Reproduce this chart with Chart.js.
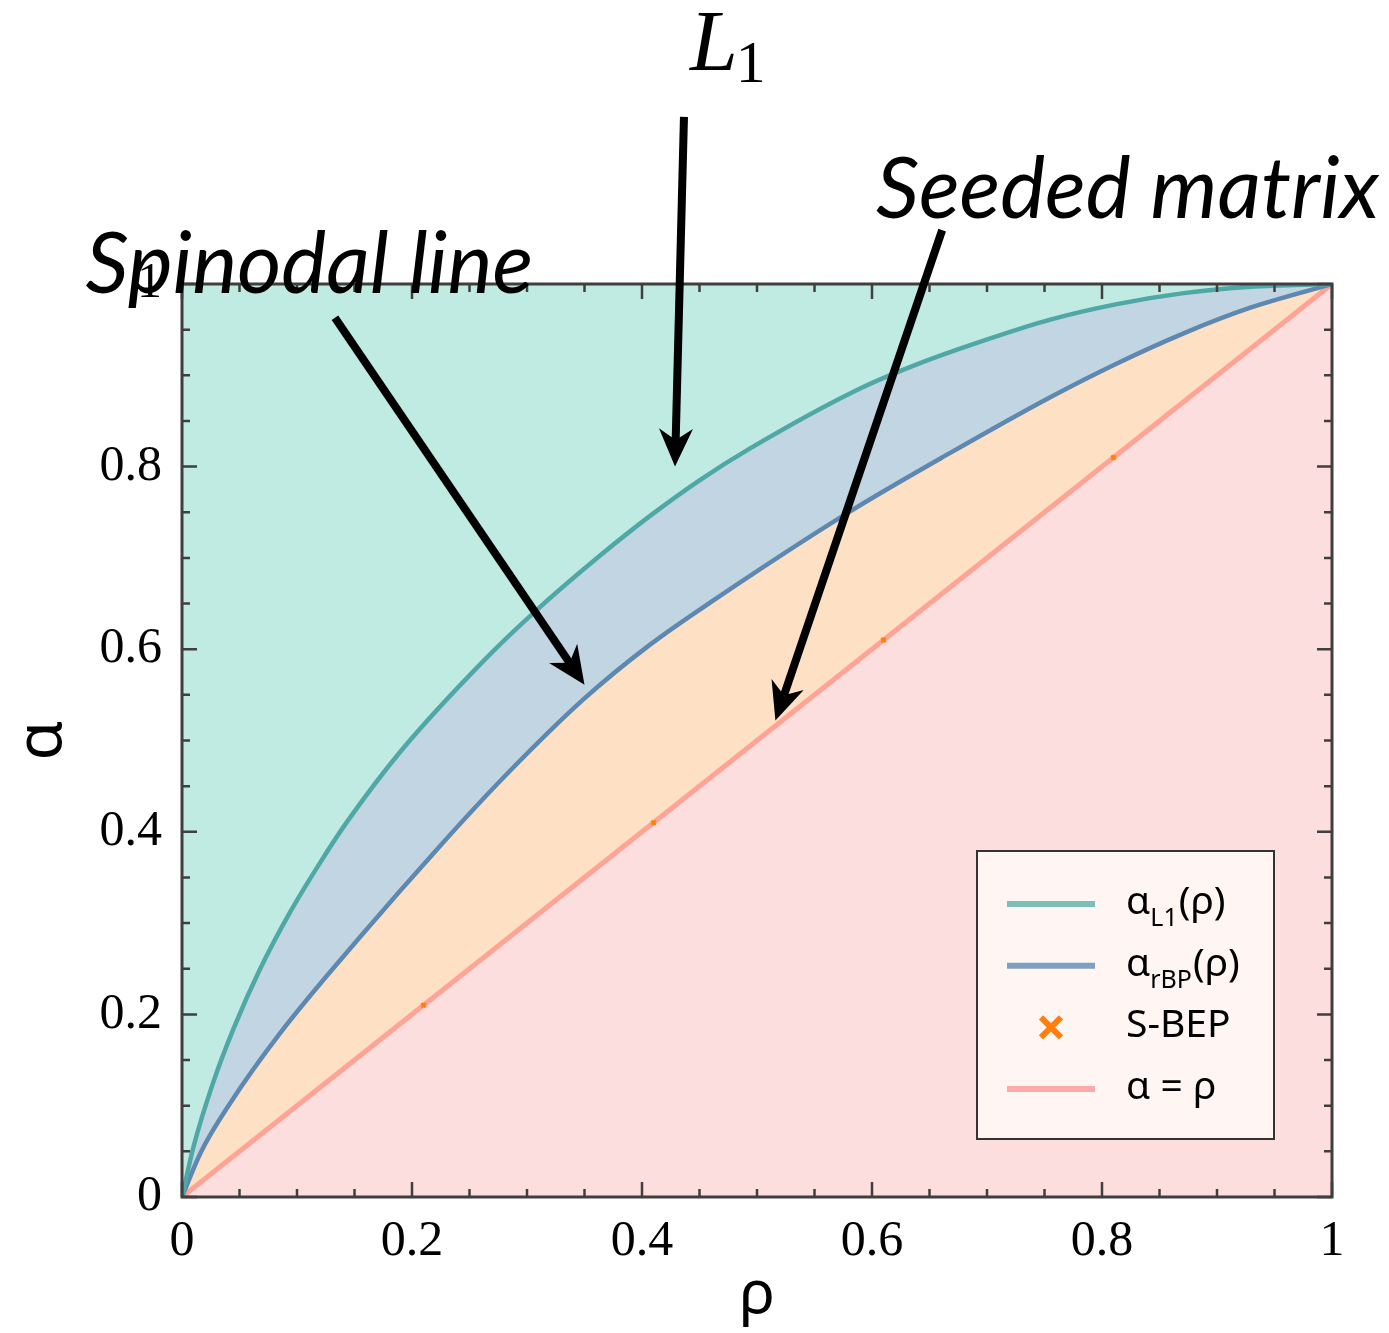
<!DOCTYPE html>
<html>
<head>
<meta charset="utf-8">
<script src="https://cdn.jsdelivr.net/npm/chart.js@4.4.1/dist/chart.umd.min.js"></script>
<style>
  html, body { margin: 0; padding: 0; background: #fff; }
  #wrap { width: 1389px; height: 1333px; position: relative; }
</style>
</head>
<body>
<div id="wrap"><canvas id="diagrama"></canvas></div>
<script>
'use strict';

// ─── Datos del diagrama (rho, alpha) ─────────────────────────────────────────

const rhoL1   = [0, 0.010, 0.027, 0.045, 0.068, 0.094, 0.120, 0.143, 0.190, 0.262, 0.305, 0.363,
                 0.407, 0.450, 0.494, 0.587, 0.639, 0.697, 0.755, 0.813, 0.871, 0.929, 1];
const alphaL1 = [0, 0.055, 0.125, 0.185, 0.250, 0.312, 0.366, 0.410, 0.488, 0.587, 0.639, 0.702,
                 0.746, 0.785, 0.820, 0.884, 0.912, 0.938, 0.961, 0.978, 0.990, 0.997, 1];

const rhoRBP   = [0, 0.016, 0.042, 0.085, 0.155, 0.224, 0.280, 0.349, 0.407, 0.465, 0.581,
                  0.668, 0.755, 0.813, 0.871, 0.929, 1];
const alphaRBP = [0, 0.048, 0.103, 0.179, 0.285, 0.384, 0.460, 0.545, 0.605, 0.656, 0.751,
                  0.815, 0.876, 0.913, 0.946, 0.974, 1];

const rhoSBEP   = [0.21, 0.41, 0.61, 0.81];
const alphaSBEP = [0.21, 0.41, 0.61, 0.81];

const rhoDiag   = [0, 1];
const alphaDiag = [0, 1];

const xTicks = [0, 0.2, 0.4, 0.6, 0.8, 1];
const yTicks = [0, 0.2, 0.4, 0.6, 0.8, 1];
const minorStep = 0.05;

// Anotaciones: texto y flecha en coordenadas de datos (rho, alpha)
const notas = [
  { texto: 'Spinodal line', en: [-0.084, 0.990], cola: [0.133, 0.963], punta: [0.350, 0.561] },
  { texto: 'Seeded matrix', en: [0.6035, 1.072], cola: [0.661, 1.059], punta: [0.516, 0.522] },
  { texto: 'L1',            en: [0.4417, 1.234], cola: [0.4365, 1.183], punta: [0.4287, 0.800] },
];

// ─── Paleta ──────────────────────────────────────────────────────────────────

const C = {
  fondoRosa:  '#fddede',
  melocoton:  '#fee1c4',
  azulClaro:  '#c2d5e3',
  tealClaro:  '#c0ebe2',
  teal:       '#4fa8a5',
  azul:       '#5e88b0',
  salmon:     '#ffa396',
  naranja:    '#ff7f0e',
  marco:      '#3f3f3f',
  leyendaBg:  '#fff5f3',
};

function pts(xs, ys) {
  return xs.map(function(x, i) { return { x: x, y: ys[i] }; });
}

// ─── Plugins propios ─────────────────────────────────────────────────────────

// fondo rosa del area (region alpha < rho)
const fondo = {
  id: 'fondo',
  beforeDraw(chart) {
    const { ctx, chartArea: a } = chart;
    ctx.save();
    ctx.fillStyle = C.fondoRosa;
    ctx.fillRect(a.left, a.top, a.right - a.left, a.bottom - a.top);
    ctx.restore();
  },
};

// marco y ticks hacia dentro en los cuatro lados
const marco = {
  id: 'marco',
  afterDatasetsDraw(chart) {
    const { ctx, chartArea: a, scales } = chart;
    ctx.save();
    ctx.strokeStyle = C.marco;
    ctx.lineWidth = 2.5;
    ctx.beginPath();
    for (let i = 0; i <= Math.round(1 / minorStep); i++) {
      const v = i * minorStep;
      const major = xTicks.some(function(t) { return Math.abs(t - v) < 1e-9; });
      const len = major ? 15 : 8;
      const px = scales.x.getPixelForValue(v);
      ctx.moveTo(px, a.bottom); ctx.lineTo(px, a.bottom - len);
      ctx.moveTo(px, a.top);    ctx.lineTo(px, a.top + len);
      const majorY = yTicks.some(function(t) { return Math.abs(t - v) < 1e-9; });
      const lenY = majorY ? 15 : 8;
      const py = scales.y.getPixelForValue(v);
      ctx.moveTo(a.left, py);  ctx.lineTo(a.left + lenY, py);
      ctx.moveTo(a.right, py); ctx.lineTo(a.right - lenY, py);
    }
    ctx.stroke();
    ctx.lineWidth = 3;
    ctx.strokeRect(a.left, a.top, a.right - a.left, a.bottom - a.top);
    ctx.restore();
  },
};

// texto con subindices: 'α_{L1}(ρ)'
function partes(label) {
  const out = [];
  const re = /_\{([^}]*)\}/g;
  let last = 0, m;
  while ((m = re.exec(label)) !== null) {
    if (m.index > last) out.push({ t: label.slice(last, m.index), sub: false });
    out.push({ t: m[1], sub: true });
    last = re.lastIndex;
  }
  if (last < label.length) out.push({ t: label.slice(last), sub: false });
  return out;
}

function dibujarCruz(ctx, x, y, r) {
  ctx.beginPath();
  ctx.moveTo(x - r, y - r); ctx.lineTo(x + r, y + r);
  ctx.moveTo(x - r, y + r); ctx.lineTo(x + r, y - r);
  ctx.stroke();
}

function dibujarLeyenda(chart) {
  const { ctx, chartArea: a } = chart;
  const caja = { x: a.right - 355, y: a.bottom - 346, w: 297, h: 288 };
  ctx.save();
  ctx.fillStyle = C.leyendaBg;
  ctx.fillRect(caja.x, caja.y, caja.w, caja.h);
  ctx.strokeStyle = '#333';
  ctx.lineWidth = 2;
  ctx.strokeRect(caja.x, caja.y, caja.w, caja.h);

  chart.data.datasets.forEach(function(ds, i) {
    const yc = caja.y + 53 + i * 61.7;
    if (ds.showLine === false) {
      ctx.strokeStyle = ds.borderColor;
      ctx.lineWidth = 6;
      dibujarCruz(ctx, caja.x + 74, yc, 10);
    } else {
      ctx.strokeStyle = ds.colorLeyenda;
      ctx.lineWidth = 6;
      ctx.beginPath();
      ctx.moveTo(caja.x + 30, yc);
      ctx.lineTo(caja.x + 118, yc);
      ctx.stroke();
    }
    ctx.fillStyle = '#000';
    ctx.textBaseline = 'alphabetic';
    let x = caja.x + 149;
    partes(ds.label).forEach(function(p) {
      ctx.font = p.sub ? '25px "Noto Sans"' : '39px "Noto Sans"';
      ctx.fillText(p.t, x, yc + (p.sub ? 22 : 10));
      x += ctx.measureText(p.t).width + (p.sub ? 1 : 0);
    });
  });
  ctx.restore();
}

function dibujarFlecha(ctx, x0, y0, x1, y1) {
  const dx = x1 - x0, dy = y1 - y0;
  const d = Math.hypot(dx, dy);
  const ux = dx / d, uy = dy / d;
  const L = 38, W = 17;
  ctx.lineWidth = 8;
  ctx.lineCap = 'butt';
  ctx.beginPath();
  ctx.moveTo(x0, y0);
  ctx.lineTo(x1 - ux * L * 0.7, y1 - uy * L * 0.7);
  ctx.stroke();
  ctx.beginPath();
  ctx.moveTo(x1, y1);
  ctx.lineTo(x1 - ux * L - uy * W, y1 - uy * L + ux * W);
  ctx.lineTo(x1 - ux * L * 0.7, y1 - uy * L * 0.7);
  ctx.lineTo(x1 - ux * L + uy * W, y1 - uy * L - ux * W);
  ctx.closePath();
  ctx.fill();
}

const anotaciones = {
  id: 'anotaciones',
  afterDraw(chart) {
    const { ctx, scales } = chart;
    dibujarLeyenda(chart);
    ctx.save();
    ctx.fillStyle = '#000';
    ctx.strokeStyle = '#000';
    notas.forEach(function(n) {
      const tx = scales.x.getPixelForValue(n.en[0]);
      const ty = scales.y.getPixelForValue(n.en[1]);
      ctx.textBaseline = 'alphabetic';
      ctx.textAlign = 'left';
      if (n.texto === 'L1') {
        ctx.font = 'italic 86px "Liberation Serif"';
        ctx.fillText('L', tx, ty);
        const w = ctx.measureText('L').width;
        ctx.font = '60px "Liberation Serif"';
        ctx.fillText('1', tx + w - 2, ty + 12);
      } else {
        ctx.font = 'italic 85px Lato';
        ctx.fillText(n.texto, tx, ty);
      }
      dibujarFlecha(ctx,
        scales.x.getPixelForValue(n.cola[0]), scales.y.getPixelForValue(n.cola[1]),
        scales.x.getPixelForValue(n.punta[0]), scales.y.getPixelForValue(n.punta[1]));
    });
    ctx.restore();
  },
};

// ─── Grafica ─────────────────────────────────────────────────────────────────

const tickFont = { family: '"Liberation Serif"', size: 50 };

new Chart(document.getElementById('diagrama'), {
  type: 'line',
  data: {
    datasets: [
      {
        label: 'α_{L1}(ρ)',
        data: pts(rhoL1, alphaL1),
        borderColor: C.teal,
        colorLeyenda: '#7fbdb9',
        backgroundColor: C.tealClaro,
        borderWidth: 4.5,
        pointRadius: 0,
        cubicInterpolationMode: 'monotone',
        fill: 'end',
      },
      {
        label: 'α_{rBP}(ρ)',
        data: pts(rhoRBP, alphaRBP),
        borderColor: C.azul,
        colorLeyenda: '#7f9fc1',
        backgroundColor: C.azulClaro,
        borderWidth: 4.5,
        pointRadius: 0,
        cubicInterpolationMode: 'monotone',
        fill: 0,
      },
      {
        label: 'S-BEP',
        data: pts(rhoSBEP, alphaSBEP),
        showLine: false,
        borderColor: C.naranja,
        backgroundColor: C.naranja,
        pointStyle: 'crossRot',
        pointRadius: 3,
        borderWidth: 2.5,
        fill: false,
      },
      {
        label: 'α = ρ',
        data: pts(rhoDiag, alphaDiag),
        borderColor: C.salmon,
        colorLeyenda: '#ffaaaa',
        backgroundColor: C.melocoton,
        borderWidth: 5,
        pointRadius: 0,
        fill: 1,
      },
    ],
  },
  options: {
    responsive: true,
    maintainAspectRatio: false,
    animation: false,
    layout: { padding: { top: 284, right: 57, left: 0, bottom: 0 } },
    plugins: {
      legend: { display: false },
      tooltip: { enabled: false },
    },
    scales: {
      x: {
        type: 'linear', min: 0, max: 1,
        afterBuildTicks(s) { s.ticks = xTicks.map(function(v) { return { value: v }; }); },
        afterFit(s) { s.height = 136; },
        grid: { display: false, drawTicks: false },
        border: { display: false },
        ticks: { font: tickFont, color: '#000', padding: 15, maxRotation: 0,
                 callback(v) { return String(v); } },
        title: { display: true, text: 'ρ', color: '#000',
                 font: { family: '"Noto Sans"', size: 60 }, padding: { bottom: 1 } },
      },
      y: {
        type: 'linear', min: 0, max: 1,
        afterBuildTicks(s) { s.ticks = yTicks.map(function(v) { return { value: v }; }); },
        afterFit(s) { s.width = 182; },
        grid: { display: false, drawTicks: false },
        border: { display: false },
        ticks: { font: tickFont, color: '#000', padding: 20,
                 callback(v) { return String(v); } },
        title: { display: true, text: 'α', color: '#000',
                 font: { family: '"Noto Sans"', size: 64 }, padding: { top: 4 } },
      },
    },
  },
  plugins: [fondo, marco, anotaciones],
});
</script>
</body>
</html>
